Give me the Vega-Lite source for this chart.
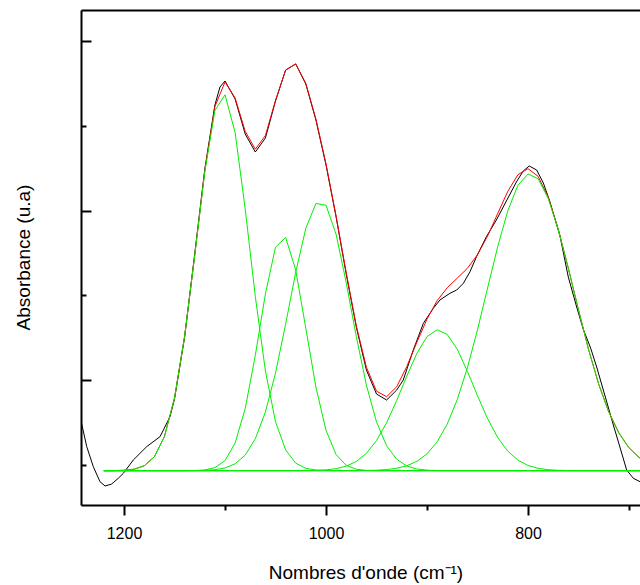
{
  "$schema": "https://vega.github.io/schema/vega-lite/v6.json",
  "width": 559,
  "height": 495,
  "autosize": {"type": "none"},
  "padding": {"left": 81, "top": 10, "right": 0, "bottom": 80},
  "background": "white",
  "config": {"view": {"stroke": null}, "axis": {"grid": false, "labelFont": "Liberation Sans", "titleFont": "Liberation Sans", "labelColor": "black", "titleColor": "black", "domainColor": "black", "tickColor": "black"}},
  "datasets": {
    "exp": [
      {"x":1243,"y":46},{"x":1236.9,"y":18.3},{"x":1230.4,"y":-1.7},{"x":1223.8,"y":-16.7},{"x":1218.8,"y":-21},{"x":1212.2,"y":-19},{"x":1205.7,"y":-13.3},{"x":1200.7,"y":-8.3},{"x":1190.8,"y":5},{"x":1177.6,"y":18.3},{"x":1164.4,"y":28.3},{"x":1161,"y":35},{"x":1154.5,"y":48.3},{"x":1150,"y":66},{"x":1140,"y":128},{"x":1130,"y":211},{"x":1120,"y":296},{"x":1110,"y":360},{"x":1105,"y":378},{"x":1100,"y":384},{"x":1090,"y":366},{"x":1080,"y":331},{"x":1070,"y":313},{"x":1060,"y":327},{"x":1050,"y":364},{"x":1040,"y":395},{"x":1030,"y":401},{"x":1020,"y":381},{"x":1010,"y":345},{"x":1000,"y":300},{"x":990,"y":248},{"x":980,"y":191},{"x":970,"y":138},{"x":960,"y":95},{"x":950,"y":71},{"x":940,"y":65},{"x":930,"y":75},{"x":923.5,"y":85},{"x":913.6,"y":115},{"x":903.6,"y":141.7},{"x":893.8,"y":156.7},{"x":887.2,"y":165},{"x":877.3,"y":171.7},{"x":870.6,"y":175},{"x":864,"y":181.7},{"x":857.4,"y":193.3},{"x":851,"y":208.3},{"x":841.2,"y":228.3},{"x":831.3,"y":245},{"x":821.4,"y":264},{"x":811.5,"y":283},{"x":804.7,"y":294},{"x":798.8,"y":299},{"x":791.4,"y":295},{"x":784.8,"y":282},{"x":778.2,"y":263},{"x":768.3,"y":229},{"x":760.1,"y":188},{"x":751.8,"y":158},{"x":745,"y":135},{"x":738,"y":117},{"x":732,"y":98},{"x":722,"y":63},{"x":715.5,"y":40},{"x":709,"y":18},{"x":702.3,"y":-5},{"x":695.7,"y":-13.3},{"x":689,"y":-16.7},{"x":680,"y":-19}
    ],
    "fit": [
      {"x":1220,"y":-5.7},{"x":1210,"y":-5.6},{"x":1200,"y":-5.3},{"x":1190,"y":-4.2},{"x":1180,"y":-0.8},{"x":1170,"y":8.2},{"x":1160,"y":28.4},{"x":1150,"y":67.0},{"x":1140,"y":128.7},{"x":1130,"y":209.9},{"x":1120,"y":294.5},{"x":1110,"y":358.5},{"x":1100,"y":383.1},{"x":1090,"y":367.0},{"x":1080,"y":333.7},{"x":1070,"y":315.8},{"x":1060,"y":329.5},{"x":1050,"y":364.6},{"x":1040,"y":394.8},{"x":1030,"y":401.1},{"x":1020,"y":381.7},{"x":1010,"y":346.0},{"x":1000,"y":301.2},{"x":990,"y":248.8},{"x":980,"y":192.3},{"x":970,"y":139.2},{"x":960,"y":97.7},{"x":950,"y":73.8},{"x":940,"y":68.3},{"x":930,"y":78.3},{"x":920,"y":98.5},{"x":910,"y":122.8},{"x":900,"y":145.9},{"x":890,"y":164.3},{"x":880,"y":177.2},{"x":870,"y":186.9},{"x":860,"y":196.7},{"x":850,"y":210.3},{"x":840,"y":229.0},{"x":830,"y":251.5},{"x":820,"y":273.7},{"x":810,"y":290.3},{"x":800,"y":296.3},{"x":790,"y":288.7},{"x":780,"y":267.7},{"x":770,"y":235.7},{"x":760,"y":196.5},{"x":750,"y":155.1},{"x":740,"y":115.4},{"x":730,"y":80.8},{"x":720,"y":53.0},{"x":710,"y":32.0},{"x":700,"y":17.2},{"x":690,"y":7.5},{"x":680,"y":1.55}
    ],
    "comp": [
      {"s":"b","x":1220,"y":-5.7},{"s":"b","x":680,"y":-5.7},
      {"s":"p1","x":1220,"y":-5.7},{"s":"p1","x":1210,"y":-5.6},{"s":"p1","x":1200,"y":-5.3},{"s":"p1","x":1190,"y":-4.2},{"s":"p1","x":1180,"y":-0.8},{"s":"p1","x":1170,"y":8.2},{"s":"p1","x":1160,"y":28.4},{"s":"p1","x":1150,"y":67.0},{"s":"p1","x":1140,"y":128.7},{"s":"p1","x":1130,"y":209.6},{"s":"p1","x":1120,"y":293.4},{"s":"p1","x":1110,"y":354.5},{"s":"p1","x":1100,"y":370.2},{"s":"p1","x":1090,"y":332.5},{"s":"p1","x":1080,"y":256.0},{"s":"p1","x":1070,"y":168.5},{"s":"p1","x":1060,"y":94.0},{"s":"p1","x":1050,"y":43.3},{"s":"p1","x":1040,"y":15.1},{"s":"p1","x":1030,"y":1.86},{"s":"p1","x":1020,"y":-3.33},{"s":"p1","x":1010,"y":-5.06},{"s":"p1","x":1000,"y":-5.55},{"s":"p1","x":990,"y":-5.67},{"s":"p1","x":680,"y":-5.7},
      {"s":"p2","x":1220,"y":-5.7},{"s":"p2","x":1140,"y":-5.7},{"s":"p2","x":1130,"y":-5.54},{"s":"p2","x":1120,"y":-4.94},{"s":"p2","x":1110,"y":-2.65},{"s":"p2","x":1100,"y":4.4},{"s":"p2","x":1090,"y":21.9},{"s":"p2","x":1080,"y":56.4},{"s":"p2","x":1070,"y":109.7},{"s":"p2","x":1060,"y":171.1},{"s":"p2","x":1050,"y":217.9},{"s":"p2","x":1040,"y":227.5},{"s":"p2","x":1030,"y":195.1},{"s":"p2","x":1020,"y":136.8},{"s":"p2","x":1010,"y":77.8},{"s":"p2","x":1000,"y":34.7},{"s":"p2","x":990,"y":10.4},{"s":"p2","x":980,"y":-0.4},{"s":"p2","x":970,"y":-4.26},{"s":"p2","x":960,"y":-5.38},{"s":"p2","x":950,"y":-5.64},{"s":"p2","x":680,"y":-5.7},
      {"s":"p3","x":1220,"y":-5.7},{"s":"p3","x":1140,"y":-5.7},{"s":"p3","x":1130,"y":-5.61},{"s":"p3","x":1120,"y":-5.38},{"s":"p3","x":1110,"y":-4.71},{"s":"p3","x":1100,"y":-2.95},{"s":"p3","x":1090,"y":1.2},{"s":"p3","x":1080,"y":9.9},{"s":"p3","x":1070,"y":26.2},{"s":"p3","x":1060,"y":53.0},{"s":"p3","x":1050,"y":92.0},{"s":"p3","x":1040,"y":140.8},{"s":"p3","x":1030,"y":192.7},{"s":"p3","x":1020,"y":236.7},{"s":"p3","x":1010,"y":261.5},{"s":"p3","x":1000,"y":259.8},{"s":"p3","x":990,"y":230.6},{"s":"p3","x":980,"y":182.4},{"s":"p3","x":970,"y":128.4},{"s":"p3","x":960,"y":79.8},{"s":"p3","x":950,"y":43.1},{"s":"p3","x":940,"y":19.2},{"s":"p3","x":930,"y":5.7},{"s":"p3","x":920,"y":-1.05},{"s":"p3","x":910,"y":-4.0},{"s":"p3","x":900,"y":-5.14},{"s":"p3","x":890,"y":-5.54},{"s":"p3","x":880,"y":-5.66},{"s":"p3","x":680,"y":-5.7},
      {"s":"p4","x":1220,"y":-5.7},{"s":"p4","x":1040,"y":-5.69},{"s":"p4","x":1030,"y":-5.66},{"s":"p4","x":1020,"y":-5.59},{"s":"p4","x":1010,"y":-5.38},{"s":"p4","x":1000,"y":-4.85},{"s":"p4","x":990,"y":-3.66},{"s":"p4","x":980,"y":-1.17},{"s":"p4","x":970,"y":3.54},{"s":"p4","x":960,"y":11.7},{"s":"p4","x":950,"y":24.4},{"s":"p4","x":940,"y":42.2},{"s":"p4","x":930,"y":64.5},{"s":"p4","x":920,"y":88.9},{"s":"p4","x":910,"y":111.7},{"s":"p4","x":900,"y":128.4},{"s":"p4","x":890,"y":135.3},{"s":"p4","x":880,"y":130.6},{"s":"p4","x":870,"y":115.7},{"s":"p4","x":860,"y":93.7},{"s":"p4","x":850,"y":69.3},{"s":"p4","x":840,"y":46.3},{"s":"p4","x":830,"y":27.5},{"s":"p4","x":820,"y":13.8},{"s":"p4","x":810,"y":4.9},{"s":"p4","x":800,"y":-0.44},{"s":"p4","x":790,"y":-3.29},{"s":"p4","x":780,"y":-4.69},{"s":"p4","x":770,"y":-5.31},{"s":"p4","x":760,"y":-5.56},{"s":"p4","x":750,"y":-5.65},{"s":"p4","x":680,"y":-5.7},
      {"s":"p5","x":1220,"y":-5.7},{"s":"p5","x":980,"y":-5.67},{"s":"p5","x":970,"y":-5.61},{"s":"p5","x":960,"y":-5.48},{"s":"p5","x":950,"y":-5.19},{"s":"p5","x":940,"y":-4.55},{"s":"p5","x":930,"y":-3.26},{"s":"p5","x":920,"y":-0.78},{"s":"p5","x":910,"y":3.68},{"s":"p5","x":900,"y":11.2},{"s":"p5","x":890,"y":23.1},{"s":"p5","x":880,"y":40.9},{"s":"p5","x":870,"y":65.5},{"s":"p5","x":860,"y":97.3},{"s":"p5","x":850,"y":135.3},{"s":"p5","x":840,"y":177.0},{"s":"p5","x":830,"y":218.3},{"s":"p5","x":820,"y":254.2},{"s":"p5","x":810,"y":279.7},{"s":"p5","x":800,"y":291.0},{"s":"p5","x":790,"y":286.3},{"s":"p5","x":780,"y":266.7},{"s":"p5","x":770,"y":235.3},{"s":"p5","x":760,"y":196.4},{"s":"p5","x":750,"y":155.0},{"s":"p5","x":740,"y":115.4},{"s":"p5","x":730,"y":80.8},{"s":"p5","x":720,"y":53.0},{"s":"p5","x":710,"y":32.0},{"s":"p5","x":700,"y":17.2},{"s":"p5","x":690,"y":7.5},{"s":"p5","x":680,"y":1.55}
    ]
  },
  "layer": [
    {
      "data": {"name": "exp"},
      "mark": {"type": "line", "color": "#000000", "strokeWidth": 1, "clip": true},
      "encoding": {
        "x": {"field": "x", "type": "quantitative",
          "scale": {"domain": [689.1, 1242.6], "reverse": true, "nice": false, "zero": false},
          "axis": {"orient": "bottom", "values": [1200, 1100, 1000, 900, 800, 700], "format": "d",
            "labelExpr": "datum.value % 200 === 0 ? datum.label : ''",
            "labelFontSize": 16, "labelPadding": 10, "labelFlush": false,
            "domainWidth": 2, "tickWidth": 2,
            "tickSize": {"condition": {"test": "datum.value % 200 === 0", "value": 10}, "value": 5},
            "title": "Nombres d'onde (cm⁻¹)", "titleFontSize": 19, "titleFontWeight": "normal",
            "titleX": 284.5, "titleY": 73, "titleBaseline": "alphabetic", "titleAlign": "center"}},
        "y": {"field": "y", "type": "quantitative",
          "scale": {"domain": [-40, 455], "nice": false, "zero": false},
          "axis": {"orient": "left", "values": [0, 84.8, 169.6, 254.4, 339.2, 424], "labels": false,
            "domainWidth": 2, "tickWidth": 2,
            "tickSize": {"condition": {"test": "abs(datum.value - 84.8) < 1 || abs(datum.value - 254.4) < 1 || abs(datum.value - 424) < 1", "value": -10}, "value": -5},
            "title": "Absorbance (u.a)", "titleFontSize": 19, "titleFontWeight": "normal",
            "titleAngle": -90, "titleX": -52, "titleY": 247, "titleBaseline": "alphabetic", "titleAlign": "center"}}
      }
    },
    {
      "data": {"name": "fit"},
      "mark": {"type": "line", "color": "#ff0000", "strokeWidth": 1, "clip": true},
      "encoding": {
        "x": {"field": "x", "type": "quantitative",
          "axis": {"orient": "top", "labels": false, "ticks": false, "title": null, "domainWidth": 2}},
        "y": {"field": "y", "type": "quantitative"}
      }
    },
    {
      "data": {"name": "comp"},
      "mark": {"type": "line", "color": "#00f000", "strokeWidth": 1, "clip": true},
      "encoding": {
        "x": {"field": "x", "type": "quantitative", "axis": null},
        "y": {"field": "y", "type": "quantitative"},
        "detail": {"field": "s"}
      }
    }
  ]
}
